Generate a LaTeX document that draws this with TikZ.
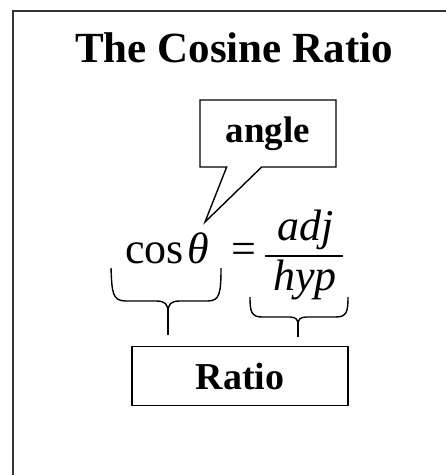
\documentclass[tikz,border=0pt]{standalone}
\usepackage{fontspec}
\setmainfont{Liberation Serif}
\usetikzlibrary{shapes.callouts}

\begin{document}
\begin{tikzpicture}[
    x=1pt, y=-1pt,
    title/.style={font=\fontsize{43}{50}\selectfont\bfseries, inner sep=0pt,
                  anchor=base},
    box/.style={draw=black, line width=1.4pt, inner sep=0pt,
                font=\fontsize{37}{44}\selectfont\bfseries},
    mathtxt/.style={font=\fontsize{44}{52}\selectfont, inner sep=0pt,
                    anchor=base},
    brace/.style={draw=black, line width=1.4pt},
    stem/.style={draw=black, line width=2.6pt},
    fracbar/.style={draw=black, line width=1.6pt},
    frame/.style={draw=black!80, line width=2pt},
  ]
  \useasboundingbox (0,0) rectangle (446,475);
  \clip (0,0) rectangle (446,475);
  % ---- outer frame (runs past the right and bottom edges) ----
  \draw[frame] (13,11) rectangle (470,500);
  % ---- title ----
  \node[title] (title) at (234,62) {The Cosine Ratio};
  % ---- formula ----
  \node[mathtxt, anchor=base west] (cos) at (125,263) {cos\kern4pt\textit{θ}};
  \node[mathtxt, anchor=base west] (eq)  at (231,263) {=};
  \node[mathtxt] (num) at (306,240) {\textit{adj}};
  \node[mathtxt] (den) at (305,290) {\textit{hyp}};
  \draw[fracbar] (265,256) -- (343,256);
  % ---- callout ----
  \coordinate (tip) at (205,222);
  \node[box, rectangle callout, callout absolute pointer=(tip),
        callout pointer width=35pt, minimum width=136pt, minimum height=67pt]
        (angle) at (268,133.5) {angle};
  % ---- braces ----
  \draw[brace] (111,268) .. controls (112,292) and (112,301) .. (126,301)
      -- (156,301) .. controls (165,301) and (168,304) .. (168,312);
  \draw[brace] (168,312) .. controls (168,304) and (171,301) .. (180,301)
      -- (208,301) .. controls (220,301) and (221,292) .. (221,268);
  \draw[stem] (168,309) -- (168,335);
  \draw[brace] (250,297) .. controls (250,311) and (251,317) .. (262,317)
      -- (290,317) .. controls (296,317) and (298,320) .. (298,324);
  \draw[brace] (298,324) .. controls (298,320) and (300,317) .. (306,317)
      -- (336,317) .. controls (347,317) and (348,311) .. (348,297);
  \draw[stem] (298,322) -- (298,337);
  % ---- ratio box ----
  \node[box, minimum width=216pt, minimum height=59pt,
        font=\fontsize{38}{45}\selectfont\bfseries] (ratio) at (240,376) {Ratio};
\end{tikzpicture}
\end{document}
